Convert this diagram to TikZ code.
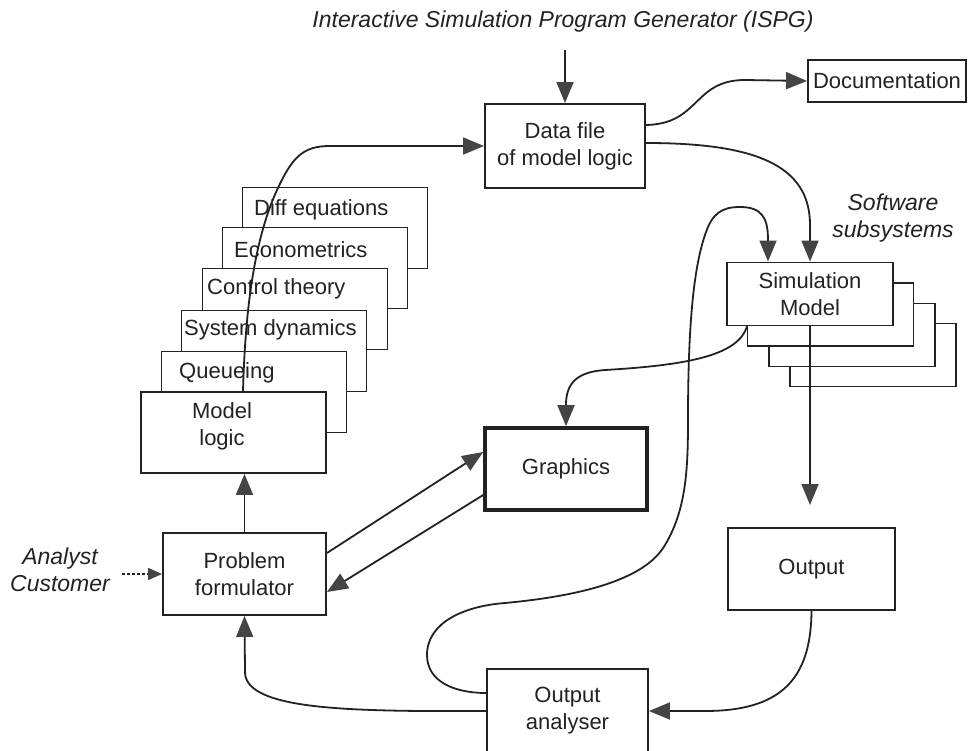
\documentclass[tikz,border=0pt]{standalone}
\usepackage{fontspec}
\setmainfont{Liberation Sans}
\usetikzlibrary{arrows.meta,calc}
\definecolor{inkc}{HTML}{222222}
\definecolor{tipc}{HTML}{444444}
\begin{document}
\begin{tikzpicture}[x=1pt,y=-1pt,
  txt/.style={font=\fontsize{22}{27}\selectfont, text=inkc, inner sep=0pt, align=center},
  itxt/.style={font=\fontsize{23}{27}\selectfont\itshape, text=inkc, inner sep=0pt, align=center},
  box/.style={txt, draw=inkc, line width=1.9pt, fill=white, rectangle},
  techbox/.style={box, minimum width=185pt, minimum height=81pt},
  simbox/.style={box, minimum width=166pt, minimum height=63pt},
  arr/.style={draw=inkc, line width=1.8pt, -{Triangle[length=21pt,width=17pt,color=tipc]}},
  dasharr/.style={draw=inkc, line width=1.4pt, densely dashed, -{Triangle[length=14pt,width=12pt,color=tipc]}}
]
\useasboundingbox (0,0) rectangle (968,751);

% title and side labels
\node[itxt] (ispg) at (563,22) {Interactive Simulation Program Generator (ISPG)};
\node[itxt] (soft) at (893,218) {Software\\subsystems};
\node[itxt] (who) at (60,570) {Analyst\\Customer};

% modelling techniques, stacked back to front
\node[techbox] (diff) at (335,228) {};
\node[txt, anchor=west] (diffT) at (254,210) {Diff equations};
\node[techbox] (econ) at (315,268) {};
\node[txt, anchor=west] (econT) at (234,250) {Econometrics};
\node[techbox] (ctrl) at (295,309) {};
\node[txt, anchor=west] (ctrlT) at (207,289) {Control theory};
\node[techbox] (sysd) at (274,351) {};
\node[txt, anchor=west] (sysdT) at (184,330) {System dynamics};
\node[techbox] (queue) at (254,392) {};
\node[txt, anchor=west] (queueT) at (179,373) {Queueing};
\node[techbox] (ml) at (233.5,432.5) {};
\node[txt] (mlT) at (222,426) {Model\\logic};

% main boxes
\node[box, minimum width=160pt, minimum height=84pt] (data) at (565,146) {Data file\\of model logic};
\node[box, minimum width=158pt, minimum height=42pt] (doc) at (887,81) {Documentation};
\node[box, minimum width=163pt, minimum height=82pt] (pf) at (244.5,574) {Problem\\formulator};
\node[box, minimum width=162pt, minimum height=82pt, line width=3.6pt] (gfx) at (566,469) {Graphics};
\node[box, minimum width=167pt, minimum height=82pt] (out) at (811.5,569) {Output};
\node[box, minimum width=161pt, minimum height=84pt] (ana) at (567.5,711) {Output\\analyser};

% simulation model stack, back to front
\node[simbox] (sim4) at (873,355) {};
\node[simbox] (sim3) at (852,335) {};
\node[simbox] (sim2) at (830.5,314.5) {};
\node[simbox] (sim) at (810,294) {Simulation\\Model};

% free ends
\coordinate (ispgfoot) at (565,50);
\coordinate (anstart) at (122,574);
\coordinate (outtip) at (810,505);

% connectors
\draw[arr] (ispgfoot) -- (data.north);
\draw[arr] ([yshift=21pt]data.east) .. controls (700,124) and (693,80) .. (745,80) -- (doc.west);
\draw[arr] ([yshift=3pt]data.east) .. controls (755,143) and (810,165) .. (810,225) -- (sim.north);
\draw[arr] ([xshift=9.5pt]ml.north) .. controls (245,320) and (252,245) .. (277,190)
  .. controls (292,158) and (302,146) .. (330,146) -- (data.west);
\draw[arr] (pf.north) -- (pf.north |- ml.south);
\draw[dasharr] (anstart) -- (pf.west);
\draw[arr] ([yshift=21pt]pf.east) -- ([yshift=17pt]gfx.west);
\draw[arr] ([yshift=-26pt]gfx.west) -- ([yshift=-18pt]pf.east);
\draw[arr] ([xshift=21pt]sim.south west) .. controls (738,355) and (690,365) .. (605,370)
  .. controls (575,372) and (566,385) .. (566,405) -- (gfx.north);
\draw[arr] (sim.south) -- (outtip);
\draw[arr] (out.south) .. controls (811,680) and (780,711) .. (705,711) -- (ana.east);
\draw[arr] (ana.west) -- (420,711) .. controls (330,710) and (245,706) .. (245,672) -- (pf.south);
\draw[arr] ([yshift=18pt]ana.west) .. controls (455,693) and (427,682) .. (427,655)
  .. controls (427,622) and (465,606) .. (505,603)
  .. controls (580,596) and (645,580) .. (665,545)
  .. controls (686,510) and (688,470) .. (688,420)
  .. controls (688,330) and (693,270) .. (705,235)
  .. controls (712,213) and (722,207) .. (740,207)
  .. controls (762,207) and (768,218) .. (768,240) -- ($(sim.north)+(-42,0)$);
\end{tikzpicture}
\end{document}
